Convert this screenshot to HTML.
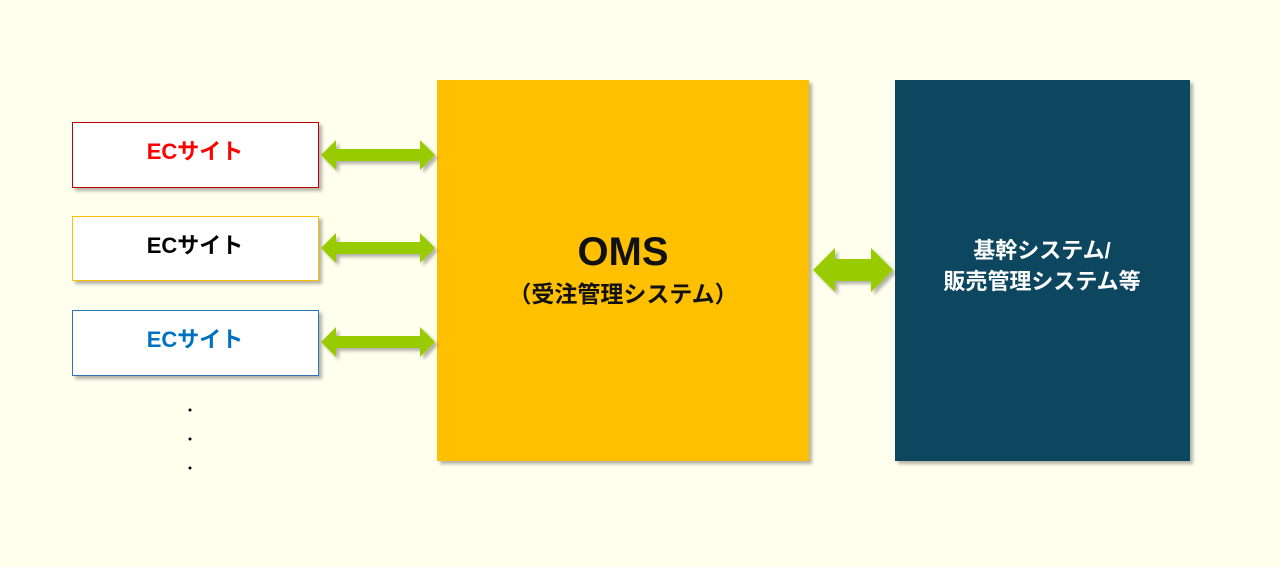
<!DOCTYPE html>
<html><head><meta charset="utf-8"><style>
body{margin:0;background:#FFFFEE;}
svg{display:block}
text{font-family:"Liberation Sans","Noto Sans CJK JP",sans-serif;font-weight:bold;text-anchor:middle}
</style></head><body>
<svg width="1280" height="567" viewBox="0 0 1280 567">
<defs><filter id="s" x="-10%" y="-10%" width="130%" height="130%"><feDropShadow dx="3" dy="3" stdDeviation="1.5" flood-color="#000" flood-opacity="0.3"/></filter></defs>
<rect width="1280" height="567" fill="#FFFFEE"/>
<rect x="72.5" y="122.5" width="246" height="65" fill="#fff" stroke="#C00000" filter="url(#s)"/>
<rect x="72.5" y="216.5" width="246" height="64" fill="#fff" stroke="#FFC000" filter="url(#s)"/>
<rect x="72.5" y="310.5" width="246" height="65" fill="#fff" stroke="#2E75B6" filter="url(#s)"/>
<text x="195" y="159" font-size="22" fill="#FF0000">ECサイト</text>
<text x="195" y="253" font-size="22" fill="#000">ECサイト</text>
<text x="195" y="347" font-size="22" fill="#0070C0">ECサイト</text>
<circle cx="190" cy="410" r="1.5" fill="#000"/><circle cx="190" cy="439" r="1.5" fill="#000"/><circle cx="190" cy="468" r="1.5" fill="#000"/>
<rect x="437" y="80" width="372" height="381" fill="#FFC000" filter="url(#s)"/>
<text x="623" y="265" font-size="40" fill="#111">OMS</text>
<text x="623" y="302" font-size="23" fill="#111">（受注管理システム）</text>
<rect x="895" y="80" width="295" height="381" fill="#11475F" filter="url(#s)"/>
<text x="1042" y="258" font-size="22" fill="#fff">基幹システム/</text>
<text x="1042" y="289" font-size="22" fill="#fff">販売管理システム等</text>
<g fill="#99CC00" filter="url(#s)">
<path d="M321 155 L336 140 L336 149 L420 149 L420 140 L435 155 L420 170 L420 161 L336 161 L336 170 Z"/>
<path d="M321 248 L336 233 L336 242 L420 242 L420 233 L435 248 L420 263 L420 254 L336 254 L336 263 Z"/>
<path d="M321 342 L336 327 L336 336 L420 336 L420 327 L435 342 L420 357 L420 348 L336 348 L336 357 Z"/>
<path d="M813 270 L835 248 L835 259 L871 259 L871 248 L893 270 L871 292 L871 281 L835 281 L835 292 Z"/>
</g>
</svg>
</body></html>
